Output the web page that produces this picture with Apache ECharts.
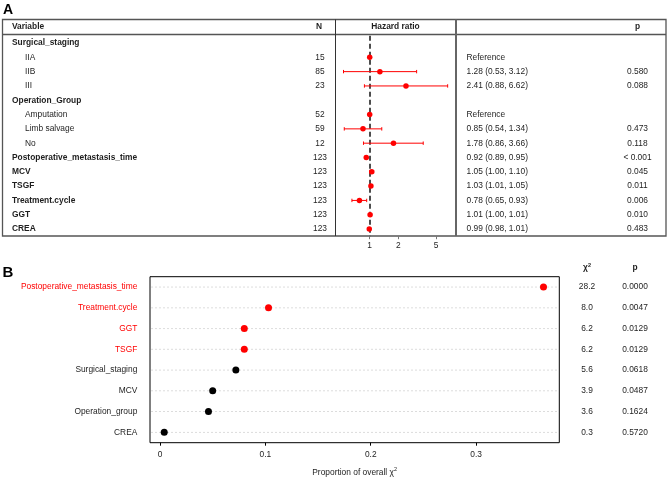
<!DOCTYPE html>
<html>
<head>
<meta charset="utf-8">
<script src="https://cdn.jsdelivr.net/npm/echarts@6/dist/echarts.min.js"></script>
<style>html,body{margin:0;padding:0;background:#fff;}#c{width:669px;height:478px;}</style>
</head>
<body>
<div id="c"></div>
<script>
// ---------- Panel A data ----------
const varLabels = ['Surgical_staging','IIA','IIB','III','Operation_Group','Amputation','Limb salvage','No','Postoperative_metastasis_time','MCV','TSGF','Treatment.cycle','GGT','CREA'];
const isGroup = [1,0,0,0,1,0,0,0,1,1,1,1,1,1];
const nVals = [null,15,85,23,null,52,59,12,123,123,123,123,123,123];
const hr   = [null,1,1.28,2.41,null,1,0.85,1.78,0.92,1.05,1.03,0.78,1.01,0.99];
const hrLo = [null,null,0.53,0.88,null,null,0.54,0.86,0.89,1.00,1.01,0.65,1.00,0.98];
const hrHi = [null,null,3.12,6.62,null,null,1.34,3.66,0.95,1.10,1.05,0.93,1.01,1.01];
const pA   = ['','','0.580','0.088','','','0.473','0.118','< 0.001','0.045','0.011','0.006','0.010','0.483'];
const hrTicks = [1,2,5];

// ---------- Panel B data ----------
const bVars = ['Postoperative_metastasis_time','Treatment.cycle','GGT','TSGF','Surgical_staging','MCV','Operation_group','CREA'];
const bProp = [0.364,0.103,0.080,0.080,0.072,0.050,0.046,0.004];
const bChi2 = [28.2,8.0,6.2,6.2,5.6,3.9,3.6,0.3];
const bP    = [0.0000,0.0047,0.0129,0.0129,0.0618,0.0487,0.1624,0.5720];
const bSig  = [1,1,1,1,0,0,0,0];
const bTicks = [0,0.1,0.2,0.3];

const FONT = '"Liberation Sans", Arial, Helvetica, sans-serif';
const FS = 8.4;
const TXT = '#1e1e1e';
const RED = '#ff0000';

function estText(i){
  if (hr[i] === null) return '';
  if (hrLo[i] === null) return 'Reference';
  return hr[i].toFixed(2) + ' (' + hrLo[i].toFixed(2) + ', ' + hrHi[i].toFixed(2) + ')';
}

function txt(x, y, text, opts){
  opts = opts || {};
  return {
    type: 'text', x: x, y: y, silent: true,
    style: {
      text: text, fill: opts.fill || TXT, fontSize: opts.fontSize || FS,
      fontWeight: opts.bold ? 'bold' : 'normal', fontFamily: FONT,
      align: opts.align || 'left', verticalAlign: 'middle'
    }
  };
}

const chart = echarts.init(document.getElementById('c'), null, {renderer: 'canvas'});

const tableData = varLabels.map((v, i) => [0, i]);
const ciData = [];
const ptData = [];
hr.forEach((h, i) => {
  if (h !== null) ptData.push([Math.log(h), i]);
  if (hrLo[i] !== null) ciData.push([Math.log(hrLo[i]), Math.log(hrHi[i]), i]);
});

const lineCol = '#555555';

const option = {
  animation: false,
  backgroundColor: '#ffffff',
  textStyle: {fontFamily: FONT},
  grid: [
    {left: 3, width: 663, top: 35.85, height: 200.35},
    {left: 335, width: 121, top: 35.85, height: 200.35},
    {left: 150, width: 409.3, top: 276.7, height: 166, show: true, borderColor: '#000', borderWidth: 1}
  ],
  xAxis: [
    {gridIndex: 0, type: 'value', min: 0, max: 663, show: false},
    {gridIndex: 1, type: 'value', min: -0.841, max: 2.092,
      axisLine: {show: false}, splitLine: {show: false},
      axisTick: {show: true, customValues: hrTicks.map(Math.log), length: 3, lineStyle: {color: '#777', width: 1}},
      axisLabel: {customValues: hrTicks.map(Math.log), formatter: v => String(Math.round(Math.exp(v))),
        margin: 5, fontSize: FS, color: TXT, fontFamily: FONT}},
    {gridIndex: 2, type: 'value', min: -0.0095, max: 0.379,
      axisLine: {show: false}, splitLine: {show: false},
      axisTick: {show: true, customValues: bTicks, length: 3, lineStyle: {color: '#000', width: 1}},
      axisLabel: {customValues: bTicks, formatter: v => String(v), margin: 8, fontSize: FS, color: TXT, fontFamily: FONT},
      name: '{a|Proportion of overall χ}{s|2}', nameLocation: 'middle', nameGap: 24,
      nameTextStyle: {rich: {
        a: {fontSize: FS, color: TXT, fontFamily: FONT, lineHeight: 11},
        s: {fontSize: 5.5, color: TXT, fontFamily: FONT, verticalAlign: 'top', lineHeight: 11}
      }}}
  ],
  yAxis: [
    {gridIndex: 0, type: 'category', data: varLabels, inverse: true, show: false},
    {gridIndex: 1, type: 'category', data: varLabels, inverse: true, show: false},
    {gridIndex: 2, type: 'category', data: bVars, inverse: true,
      axisLine: {show: false}, axisTick: {show: false}, splitLine: {show: false},
      axisLabel: {margin: 12.7, fontSize: FS, fontFamily: FONT,
        color: (v, i) => bSig[bVars.indexOf(v)] ? RED : TXT}}
  ],
  series: [
    // table text
    {type: 'custom', xAxisIndex: 0, yAxisIndex: 0, data: tableData, clip: false, silent: true,
      encode: {x: 0, y: 1},
      renderItem: function (params, api) {
        const i = params.dataIndex;
        const y = api.coord([0, i])[1];
        const x0 = params.coordSys.x;
        const ch = [];
        ch.push(txt(x0 + (isGroup[i] ? 9 : 22), y, varLabels[i], {bold: !!isGroup[i]}));
        if (nVals[i] !== null) ch.push(txt(320, y, String(nVals[i]), {align: 'center'}));
        ch.push(txt(466.5, y, estText(i)));
        if (pA[i]) ch.push(txt(637.5, y, pA[i], {align: 'center'}));
        return {type: 'group', children: ch};
      }},
    // CI lines
    {type: 'custom', xAxisIndex: 1, yAxisIndex: 1, data: ciData, clip: false, silent: true, z: 3,
      encode: {x: [0, 1], y: 2},
      renderItem: function (params, api) {
        const p1 = api.coord([api.value(0), api.value(2)]);
        const p2 = api.coord([api.value(1), api.value(2)]);
        const st = {stroke: RED, lineWidth: 1};
        return {type: 'group', children: [
          {type: 'line', shape: {x1: p1[0], y1: p1[1], x2: p2[0], y2: p2[1]}, style: st},
          {type: 'line', shape: {x1: p1[0], y1: p1[1] - 1.7, x2: p1[0], y2: p1[1] + 1.7}, style: st},
          {type: 'line', shape: {x1: p2[0], y1: p2[1] - 1.7, x2: p2[0], y2: p2[1] + 1.7}, style: st}
        ]};
      }},
    // HR points + reference line
    {type: 'scatter', xAxisIndex: 1, yAxisIndex: 1, data: ptData, symbolSize: 5.5, z: 4, silent: true,
      itemStyle: {color: RED, opacity: 1},
      markLine: {silent: true, symbol: 'none', label: {show: false}, z: 2,
        lineStyle: {color: '#4d4d4d', width: 2, type: [5, 3]},
        data: [{xAxis: 0}]}},
    // B dotted guide lines
    {type: 'custom', xAxisIndex: 2, yAxisIndex: 2, data: bVars.map((v, i) => [0, i]), silent: true, z: 1,
      encode: {x: 0, y: 1},
      renderItem: function (params, api) {
        const y = api.coord([0, api.value(1)])[1];
        const cs = params.coordSys;
        return {type: 'line', shape: {x1: cs.x + 1, y1: y, x2: cs.x + cs.width - 1, y2: y},
          style: {stroke: '#d4d4d4', lineWidth: 0.8, lineDash: [2, 2]}};
      }},
    // B points
    {type: 'scatter', xAxisIndex: 2, yAxisIndex: 2, symbolSize: 7, z: 4, silent: true,
      data: bProp.map((v, i) => ({value: [v, i], itemStyle: {color: bSig[i] ? RED : '#000', opacity: 1}}))},
    // B chi2 / p columns
    {type: 'custom', xAxisIndex: 2, yAxisIndex: 2, data: bVars.map((v, i) => [0, i]), clip: false, silent: true,
      encode: {x: 0, y: 1},
      renderItem: function (params, api) {
        const i = params.dataIndex;
        const y = api.coord([0, i])[1];
        return {type: 'group', children: [
          txt(587, y, bChi2[i].toFixed(1), {align: 'center'}),
          txt(635, y, bP[i].toFixed(4), {align: 'center'})
        ]};
      }}
  ],
  graphic: [
    // table frame
    {type: 'rect', shape: {x: 2.5, y: 19.5, width: 663.5, height: 216.5}, style: {fill: 'none', stroke: lineCol, lineWidth: 1.3}, silent: true},
    {type: 'line', shape: {x1: 2.5, y1: 34.5, x2: 666, y2: 34.5}, style: {stroke: lineCol, lineWidth: 1.3}, silent: true},
    {type: 'line', shape: {x1: 335.5, y1: 19.5, x2: 335.5, y2: 236}, style: {stroke: '#333', lineWidth: 1}, silent: true},
    {type: 'line', shape: {x1: 456, y1: 19.5, x2: 456, y2: 236}, style: {stroke: '#666', lineWidth: 2}, silent: true},
    // headers A
    txt(12, 27, 'Variable', {bold: true}),
    txt(319, 27, 'N', {bold: true, align: 'center'}),
    txt(395.5, 27, 'Hazard ratio', {bold: true, align: 'center'}),
    txt(637.5, 27, 'p', {bold: true, align: 'center'}),
    // panel letters
    txt(3, 10.5, 'A', {bold: true, fontSize: 14, fill: '#000'}),
    txt(2.5, 273, 'B', {bold: true, fontSize: 15, fill: '#000'}),
    // headers B
    {type: 'text', x: 587, y: 268, silent: true, style: {
      text: '{a|χ}{s|2}', align: 'center', verticalAlign: 'middle',
      rich: {a: {fontSize: FS, fontWeight: 'bold', fill: TXT, fontFamily: FONT, lineHeight: 11},
             s: {fontSize: 5.5, fontWeight: 'bold', fill: TXT, fontFamily: FONT, verticalAlign: 'top', lineHeight: 11}}}},
    txt(635, 268, 'p', {bold: true, align: 'center'})
  ]
};
chart.setOption(option);
</script>
</body>
</html>
